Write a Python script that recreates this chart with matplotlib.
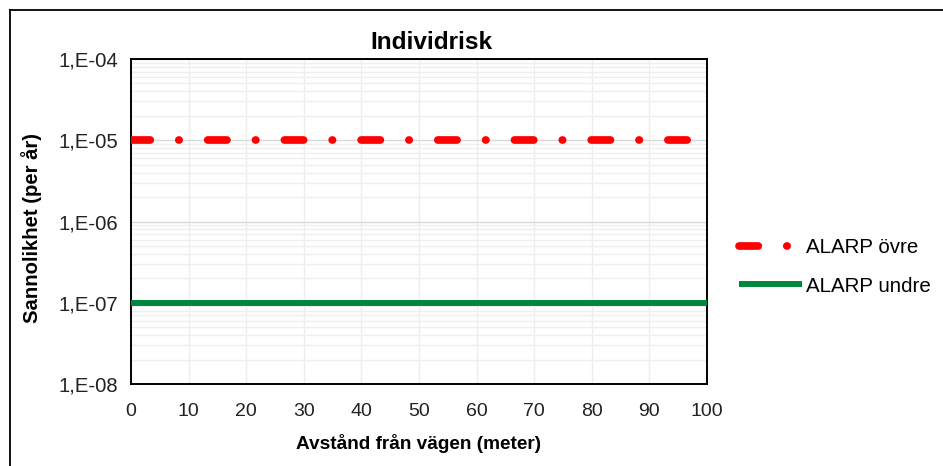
import matplotlib
matplotlib.use("Agg")
import matplotlib.pyplot as plt
from matplotlib.lines import Line2D
from matplotlib.ticker import FixedLocator, FuncFormatter, LogLocator, NullFormatter

plt.rcParams['font.family'] = ['Liberation Sans', 'DejaVu Sans']

# data
distance = [0, 100]
alarp_upper = [1e-5, 1e-5]
alarp_lower = [1e-7, 1e-7]
x_ticks = list(range(0, 101, 10))
y_ticks = [1e-8, 1e-7, 1e-6, 1e-5, 1e-4]
y_labels = ["1,E-08", "1,E-07", "1,E-06", "1,E-05", "1,E-04"]

W, H = 943, 466
fig = plt.figure(figsize=(W / 100, H / 100), dpi=100)
ax = fig.add_axes([131 / W, 1 - 384 / H, (707 - 131) / W, (384 - 59) / H])

ax.set_yscale('log')
ax.set_xlim(0, 100)
ax.set_ylim(1e-8, 1e-4)

ax.plot(distance, alarp_upper, color='#FF0000', lw=5.55,
        linestyle=(0, (2.5, 3.7, 0.05, 3.7)), dash_capstyle='round',
        label='ALARP övre', zorder=3)
ax.plot(distance, alarp_lower, color='#00873C', lw=4.3,
        solid_capstyle='butt', label='ALARP undre', zorder=3)

ax.xaxis.set_major_locator(FixedLocator(x_ticks))
ax.yaxis.set_major_locator(FixedLocator(y_ticks))
ax.yaxis.set_major_formatter(FuncFormatter(lambda v, p: y_labels[y_ticks.index(v)] if v in y_ticks else ""))
ax.yaxis.set_minor_locator(LogLocator(base=10, subs=range(2, 10)))
ax.yaxis.set_minor_formatter(NullFormatter())

ax.grid(True, which='major', axis='y', color='#D9D9D9', lw=1.0, zorder=0)
ax.grid(True, which='minor', axis='y', color='#EFEFEF', lw=1.0, zorder=0)
ax.grid(True, which='major', axis='x', color='#EDEDED', lw=1.0, zorder=0)
ax.set_axisbelow(True)

ax.tick_params(axis='both', which='both', length=0, colors='#222222')
ax.tick_params(axis='y', labelsize=14.6, pad=9)
ax.tick_params(axis='x', labelsize=14, pad=14)
for s in ax.spines.values():
    s.set_color('black')
    s.set_linewidth(1.4)

ax.set_title('Individrisk', fontsize=17.6, fontweight='bold', pad=7, x=0.522)
ax.set_xlabel('Avstånd från vägen (meter)', fontsize=13.7, fontweight='bold', labelpad=10)
ax.set_ylabel('Sannolikhet (per år)', fontsize=14.6, fontweight='bold')
ax.yaxis.set_label_coords(42 / W, 1 - 228 / H, transform=fig.transFigure)

fig.legend(loc='upper left', bbox_to_anchor=(739 / W, 1 - 238 / H), frameon=False,
           fontsize=14.8, handlelength=3.06, handletextpad=0.2, labelspacing=0.95,
           borderpad=0, borderaxespad=0)

# outer chart border (runs off the right and bottom edges)
fig.add_artist(Line2D([9.5 / W, 9.5 / W], [0, 1 - 10 / H], transform=fig.transFigure, color='black', lw=1.3))
fig.add_artist(Line2D([9.5 / W, 1], [1 - 10 / H, 1 - 10 / H], transform=fig.transFigure, color='black', lw=1.3))

fig.savefig('out.png', dpi=100)
plt.close()
